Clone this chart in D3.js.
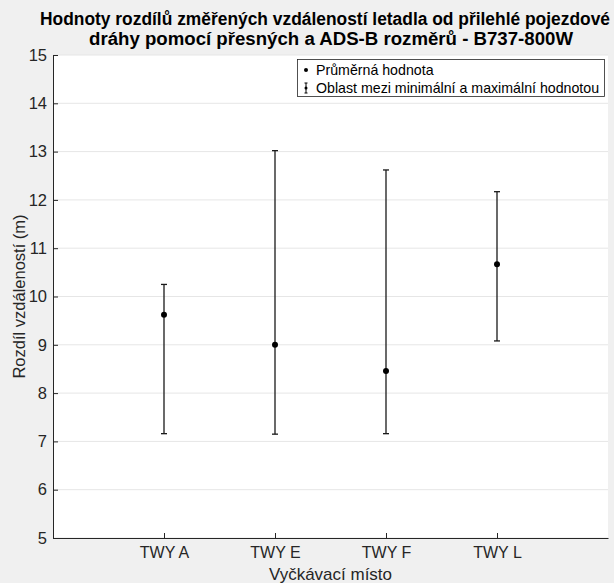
<!DOCTYPE html>
<html>
<head>
<meta charset="utf-8">
<script src="https://cdn.jsdelivr.net/npm/d3@7"></script>
<style>
  html, body { margin: 0; padding: 0; background: #f0f0f0; }
  svg { display: block; font-family: "Liberation Sans", Arial, sans-serif; }
</style>
</head>
<body>
<svg id="chart" width="614" height="583"></svg>
<script>
// Holding points and measured distance differences (m)
const categories = ["TWY A", "TWY E", "TWY F", "TWY L"];
const meanValues = [9.62, 9.0, 8.46, 10.67];
const minValues = [7.16, 7.15, 7.16, 9.08];
const maxValues = [10.25, 13.02, 12.62, 12.17];
const yTicks = [5, 6, 7, 8, 9, 10, 11, 12, 13, 14, 15];

const titleLines = [
  "Hodnoty rozdílů změřených vzdáleností letadla od přilehlé pojezdové",
  "dráhy pomocí přesných a ADS-B rozměrů - B737-800W"
];
const xLabel = "Vyčkávací místo";
const yLabel = "Rozdíl vzdáleností (m)";
const legendLabels = ["Průměrná hodnota", "Oblast mezi minimální a maximální hodnotou"];

const svg = d3.select("#chart");
const margin = { left: 53, right: 6, top: 55, bottom: 45 };
const W = 614, H = 583;
const plotW = W - margin.left - margin.right;
const plotH = H - margin.top - margin.bottom;

const x = d3.scaleLinear().domain([0, categories.length + 1]).range([margin.left, margin.left + plotW]);
const y = d3.scaleLinear().domain([5, 15]).range([margin.top + plotH, margin.top]);

// plot background
svg.append("rect")
  .attr("x", margin.left).attr("y", margin.top)
  .attr("width", plotW).attr("height", plotH)
  .attr("fill", "#ffffff");

// horizontal grid
svg.append("g")
  .selectAll("line")
  .data(yTicks)
  .join("line")
  .attr("x1", margin.left).attr("x2", margin.left + plotW)
  .attr("y1", d => y(d)).attr("y2", d => y(d))
  .attr("stroke", "#e6e6e6").attr("stroke-width", 1);

// y axis
const yAxis = svg.append("g")
  .attr("transform", `translate(${margin.left},0)`)
  .call(d3.axisLeft(y).tickValues(yTicks).tickFormat(d3.format("d")).tickSizeInner(-5).tickSizeOuter(0).tickPadding(6));
yAxis.select(".domain").attr("stroke", "#262626");
yAxis.selectAll(".tick line").attr("stroke", "#262626");
yAxis.selectAll(".tick text").attr("font-size", 16.5).attr("fill", "#262626")
  .attr("font-family", "Liberation Sans, Arial, sans-serif");

// x axis
const xAxis = svg.append("g")
  .attr("transform", `translate(0,${margin.top + plotH})`)
  .call(d3.axisBottom(x).tickValues(categories.map((c, i) => i + 1))
    .tickFormat((d, i) => categories[i]).tickSizeInner(-5).tickSizeOuter(0).tickPadding(9));
xAxis.select(".domain").attr("stroke", "#262626");
xAxis.selectAll(".tick line").attr("stroke", "#262626");
xAxis.selectAll(".tick text").attr("font-size", 16).attr("fill", "#262626")
  .attr("font-family", "Liberation Sans, Arial, sans-serif");

// range bars (min to max)
const rows = categories.map((c, i) => ({ c, i: i + 1, mean: meanValues[i], min: minValues[i], max: maxValues[i] }));
const bars = svg.append("g");
bars.selectAll("line.range")
  .data(rows).join("line")
  .attr("class", "range")
  .attr("x1", d => x(d.i)).attr("x2", d => x(d.i))
  .attr("y1", d => y(d.min)).attr("y2", d => y(d.max))
  .attr("stroke", "#1a1a1a").attr("stroke-width", 1.3);
["min", "max"].forEach(k => {
  bars.selectAll("line.cap-" + k)
    .data(rows).join("line")
    .attr("class", "cap-" + k)
    .attr("x1", d => x(d.i) - 3).attr("x2", d => x(d.i) + 3)
    .attr("y1", d => y(d[k])).attr("y2", d => y(d[k]))
    .attr("stroke", "#1a1a1a").attr("stroke-width", 1.3);
});

// mean markers
bars.selectAll("circle")
  .data(rows).join("circle")
  .attr("cx", d => x(d.i)).attr("cy", d => y(d.mean))
  .attr("r", 3).attr("fill", "#000");

// title (two lines, fitted to the page width)
const titleSpec = [
  { x: 40, y: 25, len: 570, size: 17.5 },
  { x: 89, y: 45, len: 484, size: 18 }
];
titleLines.forEach((t, i) => {
  const s = titleSpec[i];
  svg.append("text")
    .attr("x", s.x).attr("y", s.y)
    .attr("font-weight", "bold").attr("font-size", s.size).attr("fill", "#000")
    .attr("textLength", s.len).attr("lengthAdjust", "spacingAndGlyphs")
    .text(t);
});

// axis labels
svg.append("text")
  .attr("x", x(2.5)).attr("y", 580)
  .attr("text-anchor", "middle").attr("font-size", 17).attr("fill", "#262626")
  .text(xLabel);
svg.append("text")
  .attr("transform", `translate(25,${y(10)}) rotate(-90)`)
  .attr("text-anchor", "middle").attr("font-size", 16.5).attr("fill", "#262626")
  .text(yLabel);

// legend
const lg = svg.append("g");
lg.append("rect")
  .attr("x", 297.5).attr("y", 59.5).attr("width", 307).attr("height", 37)
  .attr("fill", "#fff").attr("stroke", "#262626").attr("stroke-width", 0.8);
lg.append("circle").attr("cx", 306).attr("cy", 70).attr("r", 2).attr("fill", "#000");
lg.append("text").attr("x", 316).attr("y", 75).attr("font-size", 14.2).attr("fill", "#000").text(legendLabels[0]);
lg.append("line").attr("x1", 306).attr("x2", 306).attr("y1", 83).attr("y2", 93).attr("stroke", "#000").attr("stroke-width", 1);
lg.append("line").attr("x1", 304.5).attr("x2", 307.5).attr("y1", 83).attr("y2", 83).attr("stroke", "#000").attr("stroke-width", 1);
lg.append("line").attr("x1", 304.5).attr("x2", 307.5).attr("y1", 93).attr("y2", 93).attr("stroke", "#000").attr("stroke-width", 1);
lg.append("circle").attr("cx", 306).attr("cy", 88).attr("r", 1.5).attr("fill", "#000");
lg.append("text").attr("x", 316).attr("y", 93).attr("font-size", 14.2).attr("fill", "#000").text(legendLabels[1]);
</script>
</body>
</html>
